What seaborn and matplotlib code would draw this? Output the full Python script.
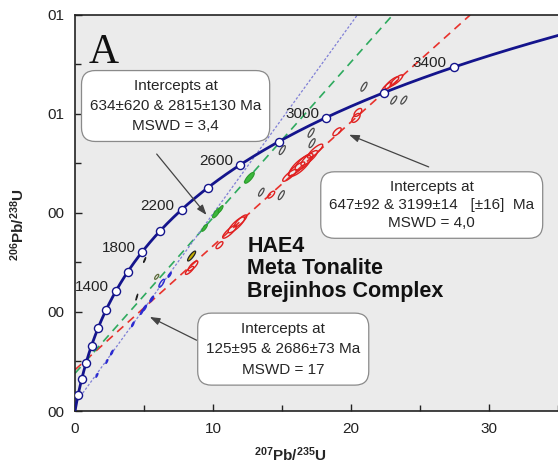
import numpy as np
import pandas as pd
import matplotlib
matplotlib.use("Agg")
import matplotlib.pyplot as plt
import seaborn as sns

# ---- decay constants (1/yr) ----
L238 = 1.55125e-10
L235 = 9.8485e-10

# ---- concordia age marks (Ma) ----
marked_ages = [200, 400, 600, 800, 1000, 1200, 1400, 1600, 1800, 2000,
               2200, 2400, 2600, 2800, 3000, 3200, 3400]
labelled_ages = [1400, 1800, 2200, 2600, 3000, 3400]

# ---- discordia intercepts (Ma) ----
green_fit = [634, 2815]
red_fit = [647, 3199]
blue_fit = [125, 2686]

# ---- analyses: x=207Pb/235U, y=206Pb/238U, sx, sy, rho ----
red_x = [16.97, 17.40, 16.60, 16.05, 15.55, 16.30, 18.99, 20.36, 20.50,
         22.96, 23.30, 22.60, 11.70, 11.20, 12.00, 10.47, 8.55, 8.30, 14.22]
red_y = [0.511, 0.525, 0.503, 0.489, 0.476, 0.495, 0.564, 0.592, 0.603,
         0.663, 0.668, 0.655, 0.376, 0.362, 0.384, 0.335, 0.293, 0.284, 0.437]
red_sx = [0.60, 0.55, 0.65, 0.60, 0.50, 0.80, 0.30, 0.30, 0.28,
          0.50, 0.45, 0.35, 0.60, 0.50, 0.45, 0.25, 0.35, 0.30, 0.25]
red_sy = [0.015, 0.014, 0.017, 0.014, 0.012, 0.021, 0.008, 0.009, 0.008,
          0.012, 0.011, 0.009, 0.016, 0.013, 0.012, 0.007, 0.010, 0.008, 0.007]
red_rho = [0.85, 0.85, 0.80, 0.85, 0.85, 0.80, 0.70, 0.60, 0.60,
           0.85, 0.85, 0.85, 0.85, 0.85, 0.85, 0.70, 0.80, 0.80, 0.70]

grey_x = [17.11, 17.18, 15.02, 13.50, 14.95, 20.94, 23.10, 23.83]
grey_y = [0.562, 0.541, 0.527, 0.442, 0.436, 0.655, 0.628, 0.628]
grey_sx = [0.22, 0.22, 0.22, 0.20, 0.22, 0.22, 0.22, 0.22]
grey_sy = [0.009, 0.009, 0.009, 0.008, 0.009, 0.009, 0.008, 0.008]
grey_rho = [0.75, 0.75, 0.75, 0.75, 0.75, 0.75, 0.75, 0.75]

dark_x = [4.48, 5.05]
dark_y = [0.230, 0.305]
dark_sx = [0.07, 0.08]
dark_sy = [0.006, 0.005]
dark_rho = [0.9, 0.9]

olive_x = [5.92]
olive_y = [0.271]
olive_sx = [0.15]
olive_sy = [0.005]
olive_rho = [0.7]

yellow_x = [8.45]
yellow_y = [0.313]
yellow_sx = [0.29]
yellow_sy = [0.010]
yellow_rho = [0.85]

green_x = [10.25, 9.39, 12.64, 10.55]
green_y = [0.400, 0.370, 0.471, 0.408]
green_sx = [0.28, 0.20, 0.35, 0.18]
green_sy = [0.010, 0.007, 0.011, 0.007]
green_rho = [0.80, 0.80, 0.80, 0.80]

blue_x = [6.86, 5.56, 5.05, 4.84, 4.19, 2.67, 2.31, 1.59]
blue_y = [0.275, 0.226, 0.208, 0.200, 0.175, 0.118, 0.100, 0.072]
blue_sx = [0.12, 0.14, 0.14, 0.10, 0.10, 0.10, 0.08, 0.08]
blue_sy = [0.005, 0.006, 0.006, 0.005, 0.005, 0.005, 0.004, 0.004]
blue_rho = [0.8, 0.8, 0.8, 0.8, 0.8, 0.8, 0.8, 0.8]

blue_open_x = [6.28]
blue_open_y = [0.258]
blue_open_sx = [0.20]
blue_open_sy = [0.008]
blue_open_rho = [0.8]

y_ticks = [0.0, 0.2, 0.4, 0.6, 0.8]
y_tick_labels = ["00", "00", "00", "01", "01"]
x_ticks = [0, 10, 20, 30]


def concordia(age_ma):
    t = np.asarray(age_ma, dtype=float) * 1e6
    return np.exp(L235 * t) - 1, np.exp(L238 * t) - 1


def ellipse(ax, x, y, sx, sy, rho, **kw):
    t = np.linspace(0, 2 * np.pi, 80)
    ex = x + sx * np.cos(t)
    ey = y + sy * (rho * np.cos(t) + np.sqrt(1 - rho ** 2) * np.sin(t))
    ax.fill(ex, ey, **kw)


sns.set_theme(style="ticks")
plt.rcParams["font.family"] = ["Liberation Sans", "DejaVu Sans"]
plt.rcParams["mathtext.fontset"] = "custom"
plt.rcParams["mathtext.rm"] = "Liberation Sans"
plt.rcParams["mathtext.bf"] = "Liberation Sans:bold"

fig = plt.figure(figsize=(5.58, 4.66), dpi=100)
ax = fig.add_axes([0.1344, 0.118, 0.8656, 0.850])
ax.set_facecolor("#ebebeb")
ax.set_xlim(0, 35)
ax.set_ylim(0, 0.8)

# discordia lines through both intercepts
for fit, col, ls, lw in [(red_fit, "#e8322c", (0, (5, 3.5)), 1.2),
                         (green_fit, "#2eaa5e", (0, (5, 3.5)), 1.2),
                         (blue_fit, "#7f7fd6", (0, (2, 1.5)), 0.9)]:
    px, py = concordia(fit)
    ax.axline((px[0], py[0]), (px[1], py[1]), color=col, ls=ls, lw=lw, zorder=2)

# analyses
for xs, ys, sxs, sys_, rhos, kw in [
        (grey_x, grey_y, grey_sx, grey_sy, grey_rho,
         dict(facecolor="none", edgecolor="#4a4a4a", lw=0.9)),
        (red_x, red_y, red_sx, red_sy, red_rho,
         dict(facecolor="none", edgecolor="#e02020", lw=1.0)),
        (dark_x, dark_y, dark_sx, dark_sy, dark_rho,
         dict(facecolor="#222222", edgecolor="#222222", lw=0.8)),
        (olive_x, olive_y, olive_sx, olive_sy, olive_rho,
         dict(facecolor="none", edgecolor="#5d6b3a", lw=0.9)),
        (yellow_x, yellow_y, yellow_sx, yellow_sy, yellow_rho,
         dict(facecolor="#c8b000", edgecolor="#222222", lw=0.9)),
        (green_x, green_y, green_sx, green_sy, green_rho,
         dict(facecolor="#3cb83c", edgecolor="#2a9a2a", lw=0.8)),
        (blue_x, blue_y, blue_sx, blue_sy, blue_rho,
         dict(facecolor="#2a2ad0", edgecolor="#2a2ad0", lw=0.8)),
        (blue_open_x, blue_open_y, blue_open_sx, blue_open_sy, blue_open_rho,
         dict(facecolor="none", edgecolor="#2a2ad0", lw=1.0))]:
    for x, y, sx, sy, r in zip(xs, ys, sxs, sys_, rhos):
        ellipse(ax, x, y, sx, sy, r, zorder=3, **kw)

# concordia curve
t_curve = np.linspace(0, 3700, 500)
cx, cy = concordia(t_curve)
curve = pd.DataFrame({"x": cx, "y": cy})
sns.lineplot(data=curve, x="x", y="y", sort=False, color="#14148c",
             lw=2.0, ax=ax, zorder=4)

mx, my = concordia(marked_ages)
marks = pd.DataFrame({"x": mx, "y": my})
sns.scatterplot(data=marks, x="x", y="y", marker="o", s=34,
                facecolor="white", edgecolor="#14148c", linewidth=1.0,
                ax=ax, zorder=5)

lx, ly = concordia(labelled_ages)
for a, x, y in zip(labelled_ages, lx, ly):
    ax.annotate(str(a), (x, y), xytext=(-24, 4), textcoords="offset pixels",
                ha="center", va="center", fontsize=11, color="#222222",
                zorder=6)

# intercept boxes
box = dict(boxstyle="round,pad=0.55,rounding_size=0.9", facecolor="white",
           edgecolor="#8a8a8a", lw=0.9)
ax.text(7.29, 0.616, "Intercepts at\n634±620 & 2815±130 Ma\nMSWD = 3,4",
        ha="center", va="center", fontsize=11, linespacing=1.55, bbox=box,
        zorder=7)
ax.text(25.85, 0.416, "Intercepts at\n647±92 & 3199±14   [±16]  Ma\nMSWD = 4,0",
        ha="center", va="center", fontsize=11, linespacing=1.35, bbox=box,
        zorder=7)
ax.text(15.09, 0.125, "Intercepts at\n125±95 & 2686±73 Ma\nMSWD = 17",
        ha="center", va="center", fontsize=11, linespacing=1.6, bbox=box,
        zorder=7)

arrow = dict(arrowstyle="-|>,head_length=0.5,head_width=0.18",
             color="#444444", lw=0.9, shrinkA=0, shrinkB=0)
ax.annotate("", xy=(9.53, 0.396), xytext=(5.92, 0.519), arrowprops=arrow, zorder=6)
ax.annotate("", xy=(19.86, 0.558), xytext=(25.63, 0.493), arrowprops=arrow, zorder=6)
ax.annotate("", xy=(5.42, 0.190), xytext=(8.81, 0.143), arrowprops=arrow, zorder=6)

ax.text(12.49, 0.287, "HAE4\nMeta Tonalite\nBrejinhos Complex", ha="left",
        va="center", fontsize=15.5, fontweight="bold", linespacing=1.1,
        color="#111111", zorder=6)

ax.text(2.09, 0.703, "A", ha="center", va="baseline", fontsize=30,
        family=["Liberation Serif", "DejaVu Serif"], color="#111111", zorder=6)

# axes styling
ax.set_xticks(x_ticks)
ax.set_xticks([5, 15, 25, 35], minor=True)
ax.set_yticks(y_ticks)
ax.set_yticklabels(y_tick_labels)
ax.set_yticks([0.1, 0.3, 0.5, 0.7], minor=True)
ax.tick_params(axis="both", which="major", direction="in", length=5,
               width=1.0, labelsize=11, colors="#222222", pad=8)
ax.tick_params(axis="both", which="minor", direction="in", length=4,
               width=1.0, colors="#222222")
ax.spines["right"].set_visible(False)
for s in ["left", "bottom", "top"]:
    ax.spines[s].set_color("#222222")
    ax.spines[s].set_linewidth(1.2)

ax.set_xlabel(r"$\mathbf{^{207}Pb/^{235}U}$", fontsize=11)
ax.set_ylabel(r"$\mathbf{^{206}Pb/^{238}U}$", fontsize=11)
ax.xaxis.set_label_coords(0.445, -0.088)
ax.yaxis.set_label_coords(-0.100, 0.47)

fig.savefig("out.png", dpi=100, facecolor="white")
